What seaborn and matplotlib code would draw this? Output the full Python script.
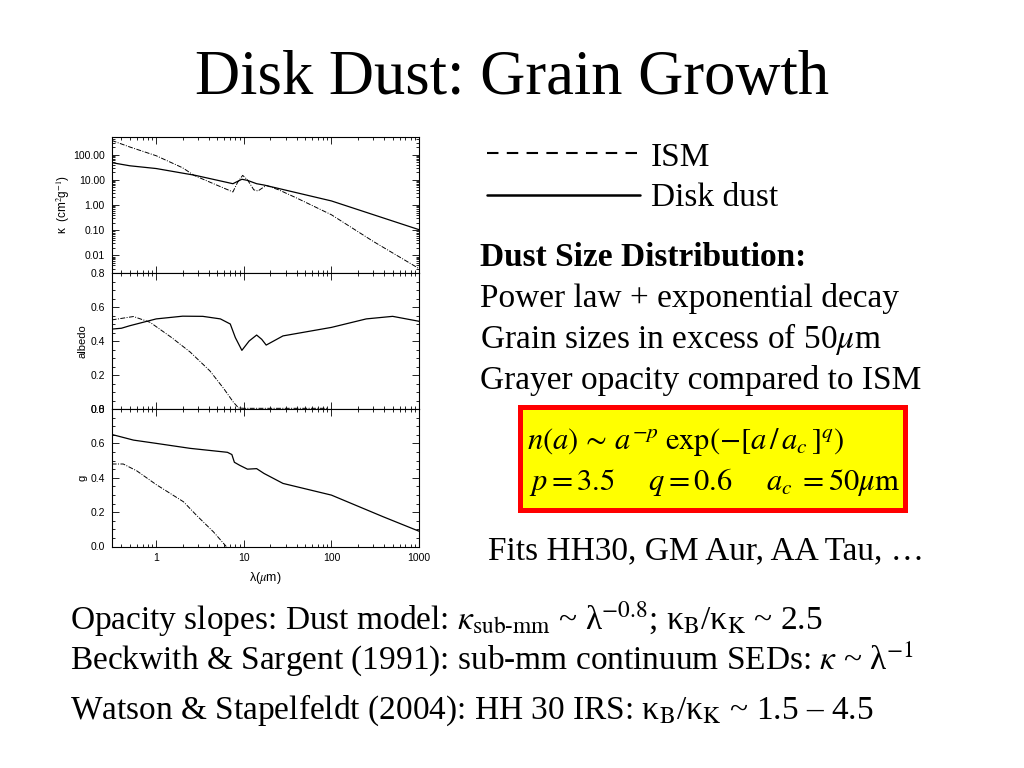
#!/usr/bin/env python3
"""Disk dust vs ISM dust: opacity, albedo and asymmetry parameter
"""

import matplotlib
matplotlib.use("Agg")
import matplotlib.pyplot as plt
from matplotlib.lines import Line2D
from matplotlib.patches import Rectangle
from matplotlib.ticker import FixedLocator, LogLocator, MultipleLocator, NullFormatter, FormatStrFormatter
import seaborn as sns

# Data (wavelength in micron)
kappa_disk_wave = [0.31, 0.5, 1, 2.8, 7.5, 9.5, 11, 14, 17, 100, 1000]
kappa_disk = [48, 36, 28, 15, 7.0, 10.5, 9.5, 7.0, 6.2, 1.45, 0.105]

kappa_ism_wave = [0.31, 0.5, 1, 2, 2.7, 5, 7.5, 8.5, 9.7, 11, 13, 14.5, 18, 25, 40, 100, 300, 1000]
kappa_ism = [365, 200, 90, 30, 15, 6, 3.3, 8, 15, 10, 4, 3.6, 6, 4, 1.9, 0.41, 0.036, 0.003]

albedo_disk_wave = [0.31, 0.4, 0.5, 1, 2, 3.4, 5.4, 7, 8, 9.5, 11.5, 14, 16, 18, 28, 100, 250, 500, 1000]
albedo_disk = [0.47, 0.475, 0.49, 0.53, 0.546, 0.545, 0.53, 0.50, 0.42, 0.345, 0.40, 0.435, 0.41, 0.376, 0.43, 0.48, 0.53, 0.545, 0.516]

albedo_ism_wave = [0.31, 0.55, 0.85, 1.5, 2.44, 4.1, 5.9, 7.6, 8.7, 10, 90]
albedo_ism = [0.524, 0.544, 0.51, 0.42, 0.335, 0.224, 0.12, 0.04, 0.006, 0.004, 0.004]

g_disk_wave = [0.31, 0.55, 1, 2.44, 6.5, 7.3, 7.8, 9, 11, 14, 17, 28, 100, 390, 1000]
g_disk = [0.652, 0.619, 0.60, 0.571, 0.548, 0.535, 0.49, 0.472, 0.45, 0.453, 0.425, 0.367, 0.299, 0.173, 0.089]

g_ism_wave = [0.31, 0.42, 0.6, 1, 2.05, 2.9, 4.5, 6.3]
g_ism = [0.48, 0.48, 0.44, 0.36, 0.26, 0.18, 0.085, 0.0]

xtick_values = [1, 10, 100, 1000]
xtick_labels = ["1", "10", "100", "1000"]
kappa_ticks = [0.01, 0.1, 1, 10, 100]
lin_ticks = [0.0, 0.2, 0.4, 0.6, 0.8]

# Style
sns.set_style("ticks", {"xtick.direction": "in", "ytick.direction": "in"})
plt.rcParams['font.family'] = ['Liberation Sans', 'DejaVu Sans']
plt.rcParams['mathtext.fontset'] = 'stix'
for key in ("text.color", "axes.labelcolor", "xtick.color", "ytick.color", "axes.edgecolor"):
    plt.rcParams[key] = "black"

W, H = 1024, 768
fig = plt.figure(figsize=(W / 100, H / 100), dpi=100)

def fx(px):
    return px / W

def fy(py):
    return 1 - py / H

left, right = 111.7, 419
panels = [(137, 273), (273, 409), (409, 546.5)]
axes = []
for top, bottom in panels:
    ax = fig.add_axes([fx(left), fy(bottom), fx(right - left), (bottom - top) / H])
    axes.append(ax)
ax_k, ax_a, ax_g = axes

ism_style = dict(color="black", linewidth=0.7, linestyle=(0, (5, 1.5, 1, 1.5)))
disk_style = dict(color="black", linewidth=0.9, linestyle="-")

sns.lineplot(x=kappa_disk_wave, y=kappa_disk, ax=ax_k, **disk_style)
sns.lineplot(x=kappa_ism_wave, y=kappa_ism, ax=ax_k, **ism_style)
sns.lineplot(x=albedo_disk_wave, y=albedo_disk, ax=ax_a, **disk_style)
sns.lineplot(x=albedo_ism_wave, y=albedo_ism, ax=ax_a, **ism_style)
sns.lineplot(x=g_disk_wave, y=g_disk, ax=ax_g, **disk_style)
sns.lineplot(x=g_ism_wave, y=g_ism, ax=ax_g, **ism_style)

for ax in axes:
    ax.set_xscale("log")
    ax.set_xlim(0.31, 1000)
    ax.xaxis.set_major_locator(FixedLocator(xtick_values))
    ax.xaxis.set_minor_locator(LogLocator(base=10, subs=range(2, 10)))
    ax.xaxis.set_minor_formatter(NullFormatter())
    ax.tick_params(which="both", direction="in", top=True, right=True,
                   labelsize=7.5, width=0.6, pad=5)
    ax.tick_params(which="major", length=5)
    ax.tick_params(which="minor", length=2.5)
    for sp in ax.spines.values():
        sp.set_linewidth(0.8)
        sp.set_visible(True)
    ax.set_xlabel("")

for ax in (ax_k, ax_a):
    ax.tick_params(labelbottom=False)

ax_g.set_xticklabels(xtick_labels)
ax_g.set_xlabel(r"λ($\mu$m)", fontsize=9, labelpad=5)

ax_k.set_yscale("log")
ax_k.set_ylim(0.002, 500)
ax_k.yaxis.set_major_locator(FixedLocator(kappa_ticks))
ax_k.yaxis.set_major_formatter(FormatStrFormatter("%.2f"))
ax_k.yaxis.set_minor_locator(LogLocator(base=10, subs=range(2, 10)))
ax_k.yaxis.set_minor_formatter(NullFormatter())
ax_k.set_ylabel(r"κ  (cm$^2$g$^{-1}$)", fontsize=8.5, labelpad=1)

for ax, lab in ((ax_a, "albedo"), (ax_g, "g")):
    ax.set_ylim(0, 0.8)
    ax.yaxis.set_major_locator(FixedLocator(lin_ticks))
    ax.yaxis.set_major_formatter(FormatStrFormatter("%.1f"))
    ax.yaxis.set_minor_locator(MultipleLocator(0.05))
    ax.set_ylabel(lab, fontsize=8, labelpad=2)

# Slide text
serif = ['Liberation Serif', 'DejaVu Serif']
body = 24
fig.text(0.5, fy(94), "Disk Dust: Grain Growth", ha="center", va="baseline",
         fontsize=45, family=serif)

fig.add_artist(Line2D([fx(487), fx(640)], [fy(153), fy(153)], transform=fig.transFigure,
                      color="black", linewidth=1.5, linestyle=(0, (5.5, 4))))
fig.add_artist(Line2D([fx(487), fx(640)], [fy(195), fy(195)], transform=fig.transFigure,
                      color="black", linewidth=1.8))
fig.text(fx(651), fy(166.5), "ISM", va="baseline", fontsize=body, family=serif)
fig.text(fx(651), fy(206.5), "Disk dust", va="baseline", fontsize=body, family=serif)

fig.text(fx(480), fy(266.5), "Dust Size Distribution:", va="baseline", fontsize=body,
         family=serif, fontweight="bold")
fig.text(fx(480), fy(307), "Power law + exponential decay", va="baseline", fontsize=body, family=serif)
fig.text(fx(480), fy(348), r"Grain sizes in excess of 50$\mu$m", va="baseline", fontsize=body, family=serif)
fig.text(fx(480), fy(389), "Grayer opacity compared to ISM", va="baseline", fontsize=body, family=serif)

fig.add_artist(Rectangle((fx(519.5), fy(509.5)), fx(904.5 - 519.5), (509.5 - 406.5) / H,
                         transform=fig.transFigure, facecolor="#ffff00",
                         edgecolor="#ff0000", linewidth=3.6))
fig.text(fx(527), fy(450), r"$n(a)\,\sim\,a^{-p}\;\mathrm{exp}\left(-\left[a\,/\,a_c\,\right]^q\right)$",
         va="baseline", fontsize=22)
fig.text(fx(529), fy(490), r"$p = 3.5\quad\;\;q = 0.6\quad\;\;a_c\;= 50\mu\mathrm{m}$",
         va="baseline", fontsize=22)

fig.text(fx(488), fy(559), "Fits HH30, GM Aur, AA Tau, …", va="baseline", fontsize=body, family=serif)

fig.text(fx(70), fy(629),
         r"Opacity slopes: Dust model: $\kappa_{\mathrm{sub\text{-}mm}}$ ~ λ$^{-0.8}$; κ$_{\mathrm{B}}$/κ$_{\mathrm{K}}$ ~ 2.5",
         va="baseline", fontsize=body, family=serif)
fig.text(fx(70), fy(669),
         r"Beckwith & Sargent (1991): sub-mm continuum SEDs: $\kappa$ ~ λ$^{-1}$",
         va="baseline", fontsize=body, family=serif)
fig.text(fx(70), fy(719),
         r"Watson & Stapelfeldt (2004): HH 30 IRS: κ$_{\mathrm{B}}$/κ$_{\mathrm{K}}$ ~ 1.5 – 4.5",
         va="baseline", fontsize=body, family=serif)

fig.savefig("out.png", dpi=100)
